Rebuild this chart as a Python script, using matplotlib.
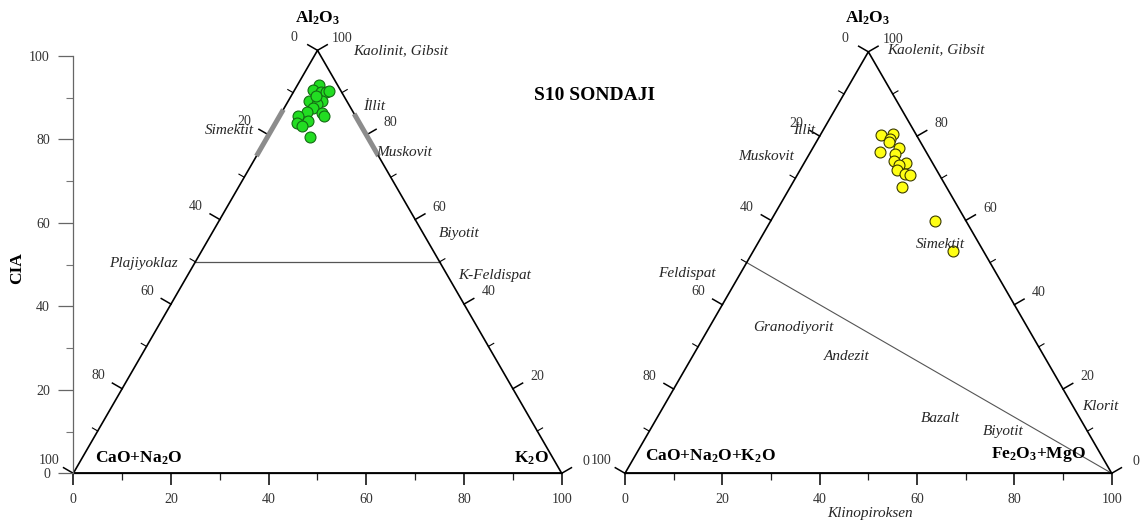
import numpy as np
import matplotlib
matplotlib.use("Agg")
import matplotlib.pyplot as plt
from matplotlib.ticker import MultipleLocator

W, H = 1142, 524
plt.rcParams['font.family'] = ['Liberation Serif', 'DejaVu Serif']
plt.rcParams['mathtext.fontset'] = 'custom'
plt.rcParams['mathtext.rm'] = 'Liberation Serif'
plt.rcParams['mathtext.bf'] = 'Liberation Serif:bold'
plt.rcParams['mathtext.it'] = 'Liberation Serif:italic'

# A-CN-K diagram: Al2O3 / CaO+Na2O / K2O (wt. %, normalised)
acnk_al2o3 = [91.9, 90.6, 90.1, 90.1, 90.5, 88.1, 88.1, 87.3, 86.3,
              85.5, 85.3, 84.5, 83.4, 82.8, 82.0, 79.6, 89.2, 84.5]
acnk_cao_na2o = [3.8, 5.7, 4.2, 3.2, 2.3, 7.6, 5.1, 6.4, 7.7,
                 9.5, 6.5, 11.7, 10.2, 12.7, 12.2, 11.8, 5.7, 6.4]
acnk_k2o = [4.3, 3.7, 5.7, 6.7, 7.2, 4.3, 6.8, 6.3, 6.0,
            5.0, 8.2, 3.8, 6.4, 4.5, 5.8, 8.6, 5.1, 9.1]

# A-CNK-FM diagram: Al2O3 / CaO+Na2O+K2O / Fe2O3+MgO
afm_al2o3 = [80.2, 80.5, 79.3, 78.5, 77.2, 76.2, 75.8, 74.2,
             73.6, 73.2, 72.0, 71.0, 70.8, 68.0, 59.8, 52.7]
afm_cnk = [7.2, 4.6, 5.8, 6.6, 5.0, 9.6, 6.6, 7.6,
           5.5, 7.1, 8.2, 7.0, 6.0, 9.1, 6.4, 6.3]
afm_fe_mg = [12.6, 14.9, 14.9, 14.9, 17.8, 14.2, 17.6, 18.2,
             20.9, 19.7, 19.8, 22.0, 23.2, 22.9, 33.8, 41.0]

# Reference lines and mineral ranges (Al2O3 on the triangle edges)
feldspar_join_al2o3 = 50
smectite_al2o3 = (75, 86)
illite_al2o3 = (75, 85)

edge_ticks = np.arange(0, 101, 10)
cia_ticks = [0, 20, 40, 60, 80, 100]

S3 = np.sqrt(3) / 2
TICK_FS = 10


def proj(top, left, right):
    """Ternary composition -> cartesian (base 0..100, apex at 50, 86.6)."""
    top = np.asarray(top, float)
    right = np.asarray(right, float)
    return right + top / 2.0, top * S3


fig = plt.figure(figsize=(W / 100, H / 100), dpi=100)
fig.patch.set_facecolor('white')


def ftext(px, py, s, **kw):
    kw.setdefault('ha', 'center')
    kw.setdefault('va', 'center')
    fig.text(px / W, 1 - py / H, s, **kw)


def make_ternary(x0_px, base_px, side_px):
    h_px = side_px * S3
    ax = fig.add_axes([x0_px / W, (H - base_px) / H, side_px / W, h_px / H])
    ax.set_xlim(0, 100)
    ax.set_ylim(0, 100 * S3)
    ax.patch.set_alpha(0)
    for sp in ('top', 'right', 'left'):
        ax.spines[sp].set_visible(False)
    ax.spines['bottom'].set_linewidth(1.2)
    ax.set_yticks([])
    ax.set_xticks(range(0, 101, 20))
    ax.xaxis.set_minor_locator(MultipleLocator(10))
    ax.tick_params(axis='x', which='major', direction='out', length=8.5,
                   width=1.1, labelsize=TICK_FS, pad=6, color='black',
                   labelcolor='#333333')
    ax.tick_params(axis='x', which='minor', direction='out', length=5,
                   width=0.9, color='#222222')

    # triangle outline
    tx, ty = proj([0, 0, 100, 0], [100, 0, 0, 100], [0, 100, 0, 0])
    ax.plot(tx, ty, color='black', lw=1.2, clip_on=False, zorder=3)

    # edge ticks, perpendicular to the edges, with labels
    c30, s30 = np.cos(np.pi / 6), np.sin(np.pi / 6)
    for a in edge_ticks:
        major = a % 20 == 0
        L = 2.3 if major else 1.25
        lw = 1.1 if major else 0.8
        xl, yl = proj(a, 100 - a, 0)
        xr, yr = proj(a, 0, 100 - a)
        ax.plot([xl, xl - L * c30], [yl, yl + L * s30], color='black',
                lw=lw, clip_on=False, zorder=3)
        ax.plot([xr, xr + L * c30], [yr, yr + L * s30], color='black',
                lw=lw, clip_on=False, zorder=3)
        if major:
            ax.text(xl - 4.9, yl + 2.65, f"{100 - a:g}", fontsize=TICK_FS,
                    color='#333333', ha='center', va='center', clip_on=False)
            ax.text(xr + 5.0, yr + 2.5, f"{a:g}", fontsize=TICK_FS,
                    color='#333333', ha='center', va='center', clip_on=False)
    return ax


# ---------------- left: A-CN-K ----------------
axl = make_ternary(73.3, 473.3, 488.4)

fx, fy = proj([feldspar_join_al2o3] * 2,
              [100 - feldspar_join_al2o3, 0], [0, 100 - feldspar_join_al2o3])
axl.plot(fx, fy, color='#555555', lw=0.9, zorder=2)

sx, sy = proj(smectite_al2o3, [100 - v for v in smectite_al2o3], [0, 0])
axl.plot(sx, sy, color='#8c8c8c', lw=3.6, solid_capstyle='butt', zorder=4,
         clip_on=False)
ix, iy = proj(illite_al2o3, [0, 0], [100 - v for v in illite_al2o3])
axl.plot(ix, iy, color='#8c8c8c', lw=3.6, solid_capstyle='butt', zorder=4,
         clip_on=False)

px_, py_ = proj(acnk_al2o3, acnk_cao_na2o, acnk_k2o)
axl.scatter(px_, py_, s=62, facecolor='#22dd22', edgecolor='#136b13',
            linewidth=0.8, zorder=5)

# CIA scale
cax = fig.add_axes([73.3 / W, (H - 473.3) / H, 0.0005, 417.3 / H])
cax.set_ylim(0, 100)
cax.patch.set_alpha(0)
for sp in ('top', 'right', 'bottom'):
    cax.spines[sp].set_visible(False)
cax.spines['left'].set_color('#666666')
cax.spines['left'].set_linewidth(0.9)
cax.set_xticks([])
cax.set_yticks(cia_ticks)
cax.yaxis.set_minor_locator(MultipleLocator(10))
cax.tick_params(axis='y', which='major', length=10.8, width=0.9,
                color='#666666', labelsize=TICK_FS, labelcolor='#333333',
                pad=6)
cax.tick_params(axis='y', which='minor', length=5, width=0.8,
                color='#777777')

bold = dict(fontsize=12.5, fontweight='bold', color='black')
ital = dict(fontsize=11, style='italic', color='#262626')

ftext(17, 268, 'CIA', rotation=90, **bold)
ftext(318, 18, r'Al$_\mathbf{2}$O$_\mathbf{3}$', **bold)
ftext(139, 458, r'CaO+Na$_\mathbf{2}$O', **bold)
ftext(531, 458, r'K$_\mathbf{2}$O', **bold)
ftext(353, 51, 'Kaolinit, Gibsit', ha='left', **ital)
ftext(363, 107, 'İllit', ha='left', **ital)
ftext(229, 131, 'Simektit', **ital)
ftext(404, 152, 'Muskovit', **ital)
ftext(459, 234, 'Biyotit', **ital)
ftext(143, 264, 'Plajiyoklaz', **ital)
ftext(495, 276, 'K-Feldispat', **ital)
ftext(594, 96, 'S10 SONDAJI', fontsize=14, fontweight='bold', color='black')

# ---------------- right: A-CNK-FM ----------------
axr = make_ternary(625.0, 473.3, 486.7)

dx, dy = proj([feldspar_join_al2o3, 0], [100 - feldspar_join_al2o3, 0],
              [0, 100])
axr.plot(dx, dy, color='#555555', lw=0.8, zorder=2)

qx, qy = proj(afm_al2o3, afm_cnk, afm_fe_mg)
axr.scatter(qx, qy, s=62, facecolor='#ffff14', edgecolor='#3a3a00',
            linewidth=0.8, zorder=5)

ftext(868, 18, r'Al$_\mathbf{2}$O$_\mathbf{3}$', **bold)
ftext(710, 456, r'CaO+Na$_\mathbf{2}$O+K$_\mathbf{2}$O', **bold)
ftext(1038, 455, r'Fe$_\mathbf{2}$O$_\mathbf{3}$+MgO', **bold)
ftext(887, 50, 'Kaolenit, Gibsit', ha='left', **ital)
ftext(804, 131, 'İllit', **ital)
ftext(766, 157, 'Muskovit', **ital)
ftext(940, 245, 'Simektit', **ital)
ftext(687, 273, 'Feldispat', **ital)
ftext(793, 327, 'Granodiyorit', **ital)
ftext(847, 357, 'Andezit', **ital)
ftext(940, 418, 'Bazalt', **ital)
ftext(1003, 431, 'Biyotit', **ital)
ftext(1100, 406, 'Klorit', **ital)
ftext(870, 514, 'Klinopiroksen', **ital)

fig.savefig('out.png', dpi=100, facecolor='white')
